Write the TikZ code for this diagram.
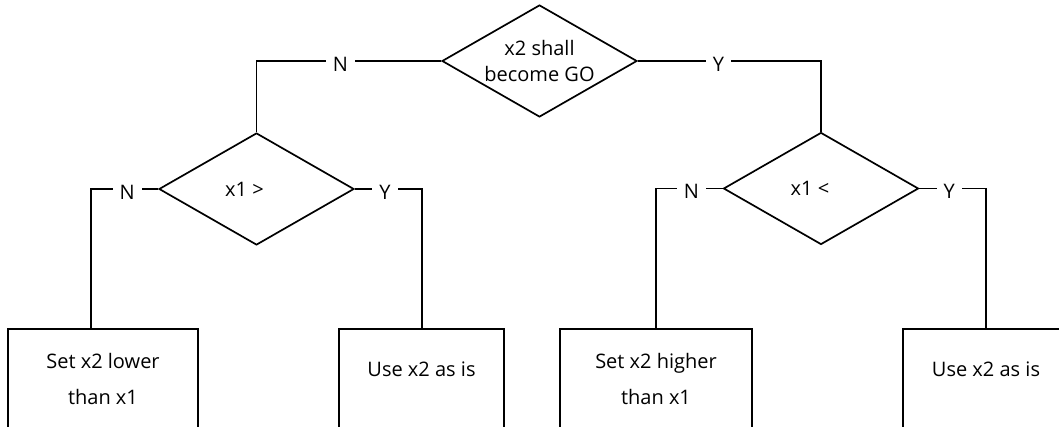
\documentclass[tikz,border=0pt]{standalone}
\usepackage{fontspec}
\setmainfont{Open Sans}
\usetikzlibrary{shapes.geometric}
\begin{document}
\begin{tikzpicture}[x=1pt,y=1pt,
  font=\fontsize{20}{25.5}\selectfont,
  line width=1.7pt,
  dia/.style={diamond, draw, inner sep=0pt, minimum width=195pt, minimum height=112pt, aspect=1.74},
  box/.style={rectangle, draw, anchor=north, minimum height=100pt, align=center, inner sep=0pt},
  lbl/.style={fill=white, inner xsep=7pt, inner ysep=1pt, yshift=-3pt}]
\useasboundingbox (0,0) rectangle (1059,-427);
\clip (0,0) rectangle (1059,-427);

\node[dia, align=center] (top) at (539.5,-61) {x2 shall\\become GO};
\node[dia] (dl) at (256.5,-189) {x1 >\hspace*{24pt}};
\node[dia] (dr) at (821,-188.5) {x1 <\hspace*{22pt}};

\node[box, minimum width=190pt] (b1) at (103,-328) {Set x2 lower\\[11pt]than x1};
\node[box, minimum width=165pt, text depth=20pt] (b2) at (421.5,-328) {Use x2 as is};
\node[box, minimum width=192pt] (b3) at (656,-328) {Set x2 higher\\[11pt]than x1};
\node[box, minimum width=166pt, text depth=20pt] (b4) at (986,-328) {Use x2 as is};

\coordinate (kN1) at (91,-189);
\coordinate (kY1) at (422,-189);

\draw (top.west) -| node[lbl, pos=0.273]{N} (dl.north);
\draw (top.east) -| node[lbl, pos=0.22]{Y} (dr.north);
\draw (dl.west) -- node[lbl, pos=0.46]{N} (kN1) -- (kN1 |- b1.north);
\draw (dl.east) -- node[lbl, pos=0.45]{Y} (kY1) -- (kY1 |- b2.north);
\draw (dr.west) -| node[lbl, pos=0.235]{N} (b3.north);
\draw (dr.east) -| node[lbl, pos=0.224]{Y} (b4.north);
\end{tikzpicture}
\end{document}
